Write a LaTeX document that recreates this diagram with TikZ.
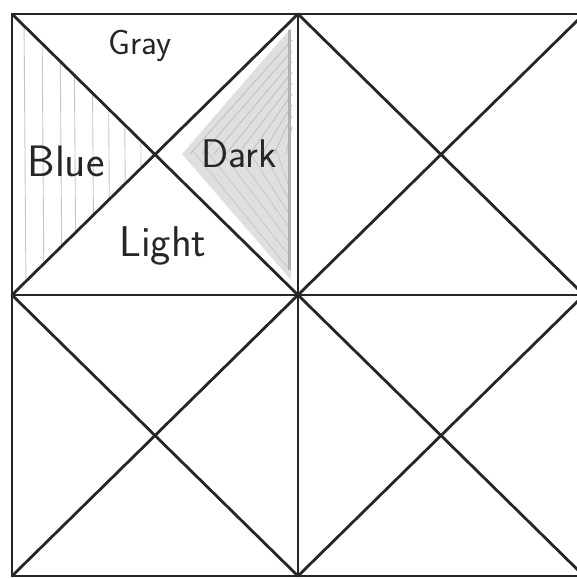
\documentclass[tikz,border=0pt]{standalone}
\tikzset{
  fold/.style={line width=2.8pt, draw=black!85, line cap=round},
  pencil/.style={gray!45, line width=0.9pt},
  word/.style={font=\fontsize{40}{42}\selectfont\sffamily, text=black!85},
}
\begin{document}
\begin{tikzpicture}[x=1pt,y=-1pt]
	\useasboundingbox (0,0) rectangle (577,579);
	% grid points
	\coordinate (a1) at (12,14);   \coordinate (a2) at (298,14);  \coordinate (a3) at (584,14);
	\coordinate (b1) at (12,295);  \coordinate (b2) at (298,295); \coordinate (b3) at (584,295);
	\coordinate (c1) at (12,576);  \coordinate (c2) at (298,576); \coordinate (c3) at (584,576);
	% shading
	\begin{scope}
		\clip (a1) -- (155,154) -- (b1) -- cycle;
		\foreach \x in {24,42,60,74,92,108,124,140}
			\draw[pencil] (\x,14) -- (\x+2,295);
	\end{scope}
	\fill[gray!25] (182,154) -- (291,28) -- (291,280) -- cycle;
	\begin{scope}
		\clip (a2) -- (155,154) -- (b2) -- cycle;
		\foreach \d in {0,12,...,96}
			\draw[gray!50, line width=0.8pt] (190+\d,154) -- (292,40+\d*0.9);
		\foreach \d in {0,14,...,98}
			\draw[gray!45, line width=0.8pt] (192+\d,150) -- (288,268-\d);
		\draw[gray!60, line width=3pt] (289,30) -- (289,270);
	\end{scope}
	% folds
	\draw[fold] (a1) rectangle (c3);
	\draw[fold] (a2) -- (c2);
	\draw[fold] (b1) -- (b3);
	\draw[fold] (a1) -- (b2) (a2) -- (b1);
	\draw[fold] (a2) -- (b3) (a3) -- (b2);
	\draw[fold] (b1) -- (c2) (b2) -- (c1);
	\draw[fold] (b2) -- (c3) (b3) -- (c2);
	% labels
	\node[word, font=\fontsize{35}{37}\selectfont\sffamily] (gray) at (140,46) {Gray};
	\node[word, font=\fontsize{44}{46}\selectfont\sffamily] (blue) at (66,161) {Blue};
	\node[word] (dark) at (239,154) {Dark};
	\node[word, font=\fontsize{43}{45}\selectfont\sffamily] (light) at (163,246) {Light};
\end{tikzpicture}
\end{document}
